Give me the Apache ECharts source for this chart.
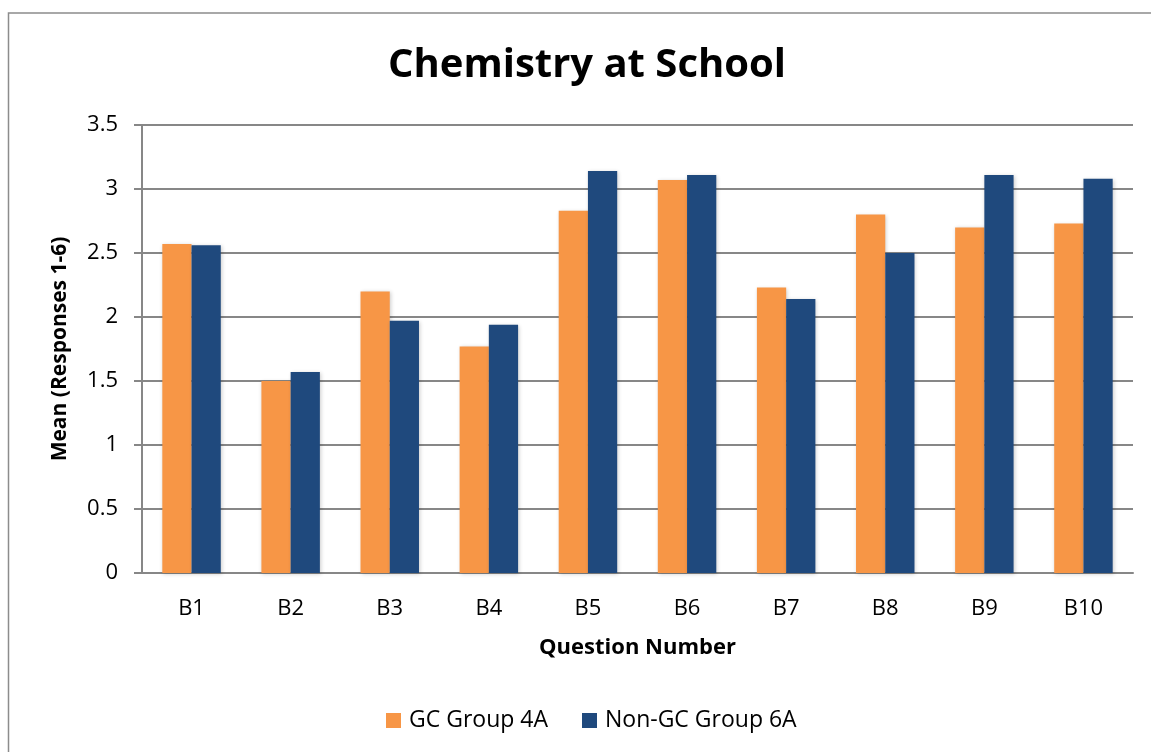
<!DOCTYPE html>
<html>
<head>
<meta charset="utf-8">
<title>Chemistry at School</title>
<script src="https://cdn.jsdelivr.net/npm/echarts@6/dist/echarts.min.js"></script>
<style>
  html, body { margin: 0; padding: 0; background: #fff; }
  #chart { width: 1151px; height: 752px; }
</style>
</head>
<body>
<div id="chart"></div>
<script>
// question numbers on the x axis
var questions = ['B1', 'B2', 'B3', 'B4', 'B5', 'B6', 'B7', 'B8', 'B9', 'B10']
// mean responses
var gcGroup4A = [2.57, 1.50, 2.20, 1.77, 2.83, 3.07, 2.23, 2.80, 2.70, 2.73]
var nonGcGroup6A = [2.56, 1.57, 1.97, 1.94, 3.14, 3.11, 2.14, 2.50, 3.11, 3.08]

var font = '"Open Sans", "Noto Sans", sans-serif'
var gridColor = '#878787'

var chart = echarts.init(document.getElementById('chart'))

var option = {
  animation: false,
  backgroundColor: '#fff',
  textStyle: { fontFamily: font },
  title: {
    text: 'Chemistry at School',
    left: 383,
    top: 41,
    textStyle: { fontSize: 40, fontWeight: 'bold', color: '#000', fontFamily: font }
  },
  // outer chart frame (no right/bottom edge visible in the original)
  graphic: [
    {
      type: 'polyline',
      silent: true,
      shape: { points: [[8.5, 800], [8.5, 13], [1160, 13]] },
      style: { stroke: '#8c8c8c', lineWidth: 1.5, fill: null }
    }
  ],
  grid: {
    left: 142,
    right: 18,
    top: 125,
    bottom: 179
  },
  legend: {
    bottom: 15,
    left: 381,
    itemWidth: 15,
    itemHeight: 15,
    itemGap: 34,
    icon: 'rect',
    textStyle: { fontSize: 23, color: '#000', fontFamily: font, padding: [0, 0, 0, 3] }
  },
  xAxis: {
    type: 'category',
    data: questions,
    name: 'Question Number',
    nameLocation: 'middle',
    nameGap: 64,
    nameTextStyle: { fontSize: 22, fontWeight: 'bold', color: '#000' },
    axisLine: { lineStyle: { color: gridColor, width: 2 } },
    axisTick: { show: false },
    axisLabel: { fontSize: 22, color: '#000', margin: 25 }
  },
  yAxis: {
    type: 'value',
    min: 0,
    max: 3.5,
    interval: 0.5,
    name: 'Mean (Responses 1-6)',
    nameLocation: 'middle',
    nameGap: 71,
    nameTextStyle: { fontSize: 21, fontWeight: 'bold', color: '#000' },
    axisLine: { show: true, lineStyle: { color: gridColor, width: 2 } },
    axisTick: { show: true, length: 8, lineStyle: { color: gridColor, width: 2 } },
    axisLabel: { fontSize: 22, color: '#000', margin: 24 },
    splitLine: { lineStyle: { color: gridColor, width: 2 } }
  },
  series: [
    {
      name: 'GC Group 4A',
      type: 'bar',
      data: gcGroup4A,
      barGap: '0%',
      barCategoryGap: '41%',
      itemStyle: {
        color: '#F79646',
        shadowColor: 'rgba(0,0,0,0.2)',
        shadowBlur: 4,
        shadowOffsetX: 1,
        shadowOffsetY: 1
      }
    },
    {
      name: 'Non-GC Group 6A',
      type: 'bar',
      data: nonGcGroup6A,
      barGap: '0%',
      barCategoryGap: '41%',
      itemStyle: {
        color: '#1F497D',
        shadowColor: 'rgba(0,0,0,0.2)',
        shadowBlur: 4,
        shadowOffsetX: 1,
        shadowOffsetY: 1
      }
    }
  ]
}

chart.setOption(option)
</script>
</body>
</html>
